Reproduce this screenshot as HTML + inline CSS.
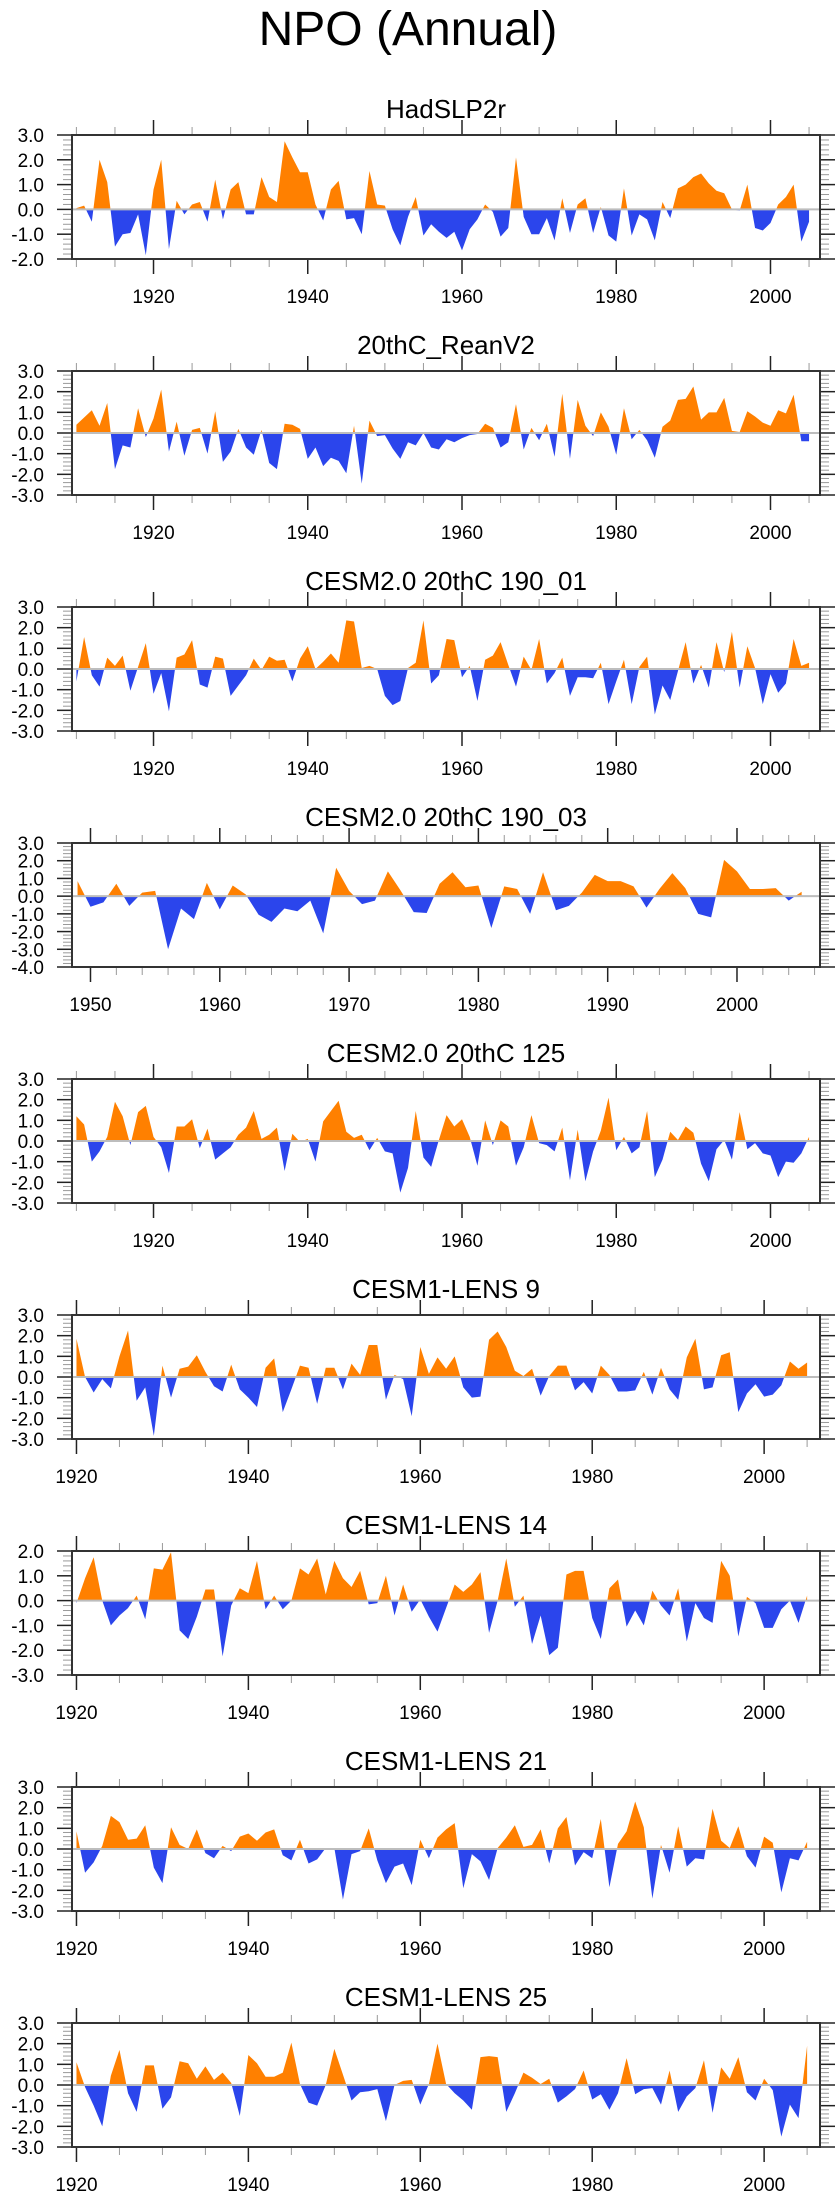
<!DOCTYPE html>
<html>
<head>
<meta charset="utf-8">
<style>
html,body{margin:0;padding:0;background:#fff;}
svg{display:block;font-family:"Liberation Sans",Arial,sans-serif;}
</style>
</head>
<body>
<svg id="chart" width="840" height="2200" viewBox="0 0 840 2200" xmlns="http://www.w3.org/2000/svg">
<text x="408" y="45" font-size="48" text-anchor="middle" fill="#000">NPO (Annual)</text>
</svg>
<script>
// ---- data (annual NPO index values) ----
const hadslp2r = [0.05,0.15,-0.5,2.0,1.1,-1.5,-1.0,-0.95,-0.2,-1.85,0.8,2.0,-1.6,0.35,-0.2,0.2,0.3,-0.5,1.2,-0.4,0.8,1.1,-0.2,-0.2,1.3,0.5,0.3,2.75,2.1,1.5,1.5,0.2,-0.45,0.8,1.15,-0.4,-0.35,-1.0,1.55,0.2,0.15,-0.8,-1.45,-0.3,0.5,-1.05,-0.6,-0.9,-1.15,-0.9,-1.65,-0.8,-0.4,0.2,-0.1,-1.1,-0.75,2.1,-0.3,-1.0,-1.0,-0.35,-1.25,0.45,-0.95,0.2,0.45,-0.95,0.1,-1.05,-1.3,0.85,-1.05,-0.2,-0.4,-1.25,0.3,-0.35,0.85,1.0,1.3,1.45,1.05,0.75,0.65,0.0,-0.05,1.0,-0.75,-0.85,-0.55,0.2,0.5,1.0,-1.3,-0.5];
const reanV2 = [0.4,0.75,1.1,0.35,1.45,-1.75,-0.6,-0.7,1.2,-0.2,0.7,2.1,-0.9,0.55,-1.1,0.15,0.25,-1.0,1.05,-1.4,-0.9,0.2,-0.7,-1.05,0.15,-1.45,-1.75,0.45,0.4,0.2,-1.25,-0.7,-1.6,-1.2,-1.35,-1.95,0.35,-2.45,0.6,-0.15,-0.1,-0.75,-1.25,-0.45,-0.6,0.0,-0.7,-0.8,-0.3,-0.45,-0.25,-0.1,-0.05,0.45,0.25,-0.7,-0.45,1.4,-0.8,0.25,-0.35,0.45,-1.15,1.9,-1.25,1.6,0.35,-0.15,1.0,0.3,-1.05,1.2,-0.3,0.15,-0.35,-1.2,0.3,0.6,1.6,1.65,2.25,0.65,1.0,1.0,1.7,0.1,0.05,1.05,0.8,0.5,0.35,1.1,0.95,1.85,-0.4,-0.4];
const cesm2_190_01 = [-0.6,1.55,-0.3,-0.85,0.55,0.15,0.65,-1.05,0.1,1.25,-1.2,-0.2,-2.05,0.55,0.7,1.4,-0.75,-0.9,0.6,0.5,-1.3,-0.8,-0.3,0.5,-0.05,0.6,0.4,0.45,-0.6,0.5,1.1,0.0,0.35,0.75,0.3,2.35,2.3,0.05,0.15,0.0,-1.3,-1.75,-1.55,0.05,0.3,2.35,-0.7,-0.3,1.45,1.4,-0.4,0.15,-1.55,0.45,0.65,1.3,0.2,-0.85,0.6,-0.05,1.45,-0.7,-0.2,0.55,-1.3,-0.4,-0.4,-0.45,0.3,-1.7,-0.6,0.45,-1.7,0.1,0.6,-2.2,-0.8,-1.5,-0.1,1.3,-0.7,0.2,-0.9,1.3,-0.15,1.8,-0.9,1.1,0.05,-1.7,-0.25,-1.15,-0.7,1.45,0.15,0.3];
const cesm2_190_03 = [0.85,-0.6,-0.35,0.7,-0.55,0.2,0.3,-3.0,-0.7,-1.3,0.75,-0.75,0.6,0.1,-1.05,-1.45,-0.7,-0.85,-0.25,-2.1,1.6,0.3,-0.45,-0.25,1.4,0.3,-0.9,-0.95,0.7,1.35,0.5,0.6,-1.8,0.55,0.4,-1.0,1.35,-0.8,-0.55,0.2,1.2,0.85,0.85,0.55,-0.65,0.4,1.3,0.45,-1.0,-1.2,2.05,1.4,0.4,0.4,0.45,-0.25,0.25];
const cesm2_125 = [1.2,0.8,-1.0,-0.5,0.2,1.9,1.2,-0.2,1.4,1.7,0.2,-0.3,-1.55,0.7,0.7,1.05,-0.35,0.6,-0.9,-0.6,-0.3,0.3,0.65,1.45,0.1,0.3,0.65,-1.45,0.35,-0.05,0.1,-1.0,0.95,1.45,1.95,0.45,0.15,0.3,-0.45,0.15,-0.5,-0.6,-2.5,-1.3,1.45,-0.8,-1.25,0.05,1.25,0.7,1.05,0.2,-1.2,1.0,-0.2,1.0,0.7,-1.2,-0.3,1.25,-0.1,-0.2,-0.5,0.65,-1.9,0.55,-1.95,-0.5,0.5,2.1,-0.45,0.2,-0.6,-0.3,1.45,-1.75,-0.9,0.45,0.05,0.7,0.4,-1.1,-1.95,-0.4,0.05,-0.9,1.4,-0.4,-0.1,-0.6,-0.7,-1.75,-1.0,-1.05,-0.6,0.2];
const lens9 = [1.85,0.0,-0.75,-0.1,-0.55,1.0,2.25,-1.15,-0.5,-2.85,0.55,-1.0,0.4,0.5,1.05,0.25,-0.45,-0.7,0.6,-0.6,-1.0,-1.45,0.45,0.9,-1.7,-0.6,0.55,0.45,-1.3,0.45,0.45,-0.6,0.65,0.1,1.55,1.55,-1.1,0.1,-0.1,-1.9,1.45,0.15,0.95,0.4,1.0,-0.5,-1.0,-0.95,1.8,2.2,1.45,0.3,0.05,0.4,-0.9,0.05,0.55,0.55,-0.65,-0.25,-0.8,0.55,0.1,-0.7,-0.7,-0.65,0.25,-0.85,0.45,-0.6,-1.1,0.95,1.85,-0.6,-0.5,1.05,1.2,-1.7,-0.8,-0.35,-0.95,-0.85,-0.4,0.75,0.4,0.7];
const lens14 = [-0.1,0.9,1.75,0.0,-1.0,-0.6,-0.3,0.2,-0.75,1.3,1.25,1.95,-1.2,-1.55,-0.65,0.45,0.45,-2.25,-0.2,0.5,0.3,1.6,-0.35,0.2,-0.35,0.0,1.3,1.05,1.7,0.25,1.6,0.9,0.55,1.2,-0.15,-0.1,1.0,-0.6,0.65,-0.45,0.05,-0.65,-1.25,-0.3,0.65,0.35,0.65,1.15,-1.3,0.0,1.7,-0.25,0.2,-1.75,-0.6,-2.2,-1.9,1.05,1.2,1.2,-0.7,-1.55,0.5,0.85,-1.05,-0.4,-1.0,0.4,-0.2,-0.6,0.5,-1.65,-0.1,-0.7,-0.9,1.6,1.0,-1.45,0.15,-0.1,-1.1,-1.1,-0.35,0.0,-0.9,0.2];
const lens21 = [0.85,-1.15,-0.65,0.15,1.6,1.3,0.45,0.5,1.15,-0.9,-1.65,1.05,0.2,0.0,0.95,-0.2,-0.45,0.15,-0.1,0.6,0.75,0.4,0.8,0.95,-0.3,-0.55,0.45,-0.7,-0.5,0.05,0.05,-2.45,-0.25,-0.1,1.0,-0.55,-1.65,-0.85,-0.7,-1.75,0.45,-0.45,0.55,0.95,1.25,-1.9,-0.25,-0.6,-1.5,0.05,0.55,1.15,0.1,0.2,0.95,-0.7,1.0,1.55,-0.8,-0.15,-0.45,1.45,-1.85,0.25,0.85,2.3,1.05,-2.4,0.2,-1.15,1.1,-0.85,-0.45,-0.5,1.95,0.4,0.05,1.1,-0.35,-0.9,0.6,0.3,-2.1,-0.45,-0.55,0.35];
const lens25 = [1.1,-0.1,-1.0,-2.0,0.45,1.7,-0.4,-1.3,0.95,0.95,-1.15,-0.6,1.15,1.05,0.3,0.9,0.25,0.6,0.1,-1.5,1.45,1.05,0.4,0.4,0.6,2.05,0.05,-0.85,-1.0,0.0,1.75,0.5,-0.75,-0.35,-0.3,-0.2,-1.75,0.0,0.2,0.25,-0.95,0.05,2.0,0.05,-0.4,-0.75,-1.2,1.35,1.4,1.35,-1.3,-0.4,0.6,0.35,0.05,0.3,-0.85,-0.55,-0.2,0.7,-0.7,-0.45,-1.2,-0.4,1.3,-0.45,-0.2,-0.15,-0.95,0.7,-1.3,-0.55,-0.15,1.2,-1.35,0.85,0.3,1.35,-0.35,-0.75,0.3,-0.25,-2.5,-0.95,-1.6,1.9];

const panelTitles = ["HadSLP2r","20thC_ReanV2","CESM2.0 20thC 190_01","CESM2.0 20thC 190_03","CESM2.0 20thC 125","CESM1-LENS 9","CESM1-LENS 14","CESM1-LENS 21","CESM1-LENS 25"];
const panelSeries = [hadslp2r, reanV2, cesm2_190_01, cesm2_190_03, cesm2_125, lens9, lens14, lens21, lens25];
const startYears = [1910,1910,1910,1949,1910,1920,1920,1920,1920];
const yMins = [-2,-3,-3,-4,-3,-3,-3,-3,-3];
const yMaxs = [3,3,3,3,3,3,2,3,3];

// ---- layout ----
const NS = "http://www.w3.org/2000/svg";
const svg = document.getElementById("chart");
const L = 72, R = 820, H = 124, TOP0 = 135, STEP = 236;
const ORANGE = "#FF8000", BLUE = "#2B45EC";

function mk(tag, attrs, parent){
  const e = document.createElementNS(NS, tag);
  for (const k in attrs) e.setAttribute(k, attrs[k]);
  (parent||svg).appendChild(e);
  return e;
}

panelSeries.forEach((vals, p) => {
  const top = TOP0 + p*STEP, bot = top + H;
  const start = startYears[p];
  let xmin, xmax, major, minor, labelStep, first;
  if (start === 1910) { xmin = 1909.43; xmax = 2006.42; major = 20; minor = 5; first = 1910; }
  else if (start === 1949) { xmin = 1948.57; xmax = 2006.42; major = 10; minor = 2; first = 1950; }
  else { xmin = 1919.48; xmax = 2006.5; major = 20; minor = 5; first = 1920; }
  const ymin = yMins[p], ymax = yMaxs[p];
  const xs = yr => L + (yr - xmin) / (xmax - xmin) * (R - L);
  const ys = v => top + (ymax - v) / (ymax - ymin) * H;

  const g = mk("g", {});
  
  

  const t = mk("text", {x: 446, y: top - 17, "font-size": 26, "text-anchor": "middle", fill: "#000"}, g);
  
  
  t.textContent = panelTitles[p];

  // clip paths for above / below zero
  const z = ys(0);
  const defs = mk("defs", {}, g);
  const c1 = mk("clipPath", {id: "up" + p}, defs);
  mk("rect", {x: L, y: top, width: R - L, height: z - top}, c1);
  const c2 = mk("clipPath", {id: "dn" + p}, defs);
  mk("rect", {x: L, y: z, width: R - L, height: bot - z}, c2);

  let d = "M" + xs(start).toFixed(2) + "," + z.toFixed(2);
  vals.forEach((v, i) => { d += " L" + xs(start + i).toFixed(2) + "," + ys(v).toFixed(2); });
  d += " L" + xs(start + vals.length - 1).toFixed(2) + "," + z.toFixed(2) + " Z";
  const pu = mk("path", {d: d, fill: ORANGE, "clip-path": "url(#up" + p + ")"}, g);
  
  
  const pd = mk("path", {d: d, fill: BLUE, "clip-path": "url(#dn" + p + ")"}, g);
  
  

  const zl = mk("line", {x1: L, x2: R, y1: z, y2: z, stroke: "#bdbdbd", "stroke-width": 2}, g);
  
  

  // y ticks
  for (let k = Math.round(ymin*5); k <= Math.round(ymax*5); k++) {
    const v = k / 5, y = ys(v);
    const isMaj = (k % 5 === 0);
    const len = isMaj ? 15 : 9;
    const col = isMaj ? "#222" : "#999";
    mk("line", {x1: L - len, x2: L, y1: y, y2: y, stroke: col, "stroke-width": isMaj ? 1.5 : 1}, g);
    mk("line", {x1: R, x2: R + len, y1: y, y2: y, stroke: col, "stroke-width": isMaj ? 1.5 : 1}, g);
    if (isMaj) {
      const lb = mk("text", {x: 44, y: y + 7, "font-size": 19, "text-anchor": "end", fill: "#000"}, g);
      
      
      lb.textContent = v.toFixed(1);
    }
  }
  // x ticks
  for (let yr = first; yr <= 2006; yr += minor) {
    const x = xs(yr);
    const isMaj = ((yr - (start === 1949 ? 1950 : 1920)) % major === 0);
    const len = isMaj ? 15 : 8;
    const col = isMaj ? "#222" : "#999";
    mk("line", {x1: x, x2: x, y1: top - len, y2: top, stroke: col, "stroke-width": isMaj ? 1.5 : 1}, g);
    mk("line", {x1: x, x2: x, y1: bot, y2: bot + len, stroke: col, "stroke-width": isMaj ? 1.5 : 1}, g);
    if (isMaj) {
      const lb = mk("text", {x: x, y: bot + 44, "font-size": 19, "text-anchor": "middle", fill: "#000"}, g);
      
      
      lb.textContent = String(yr);
    }
  }
  const box = mk("rect", {x: L, y: top, width: R - L, height: H, fill: "none", stroke: "#333", "stroke-width": 2}, g);
  
  
});
</script>
</body>
</html>
